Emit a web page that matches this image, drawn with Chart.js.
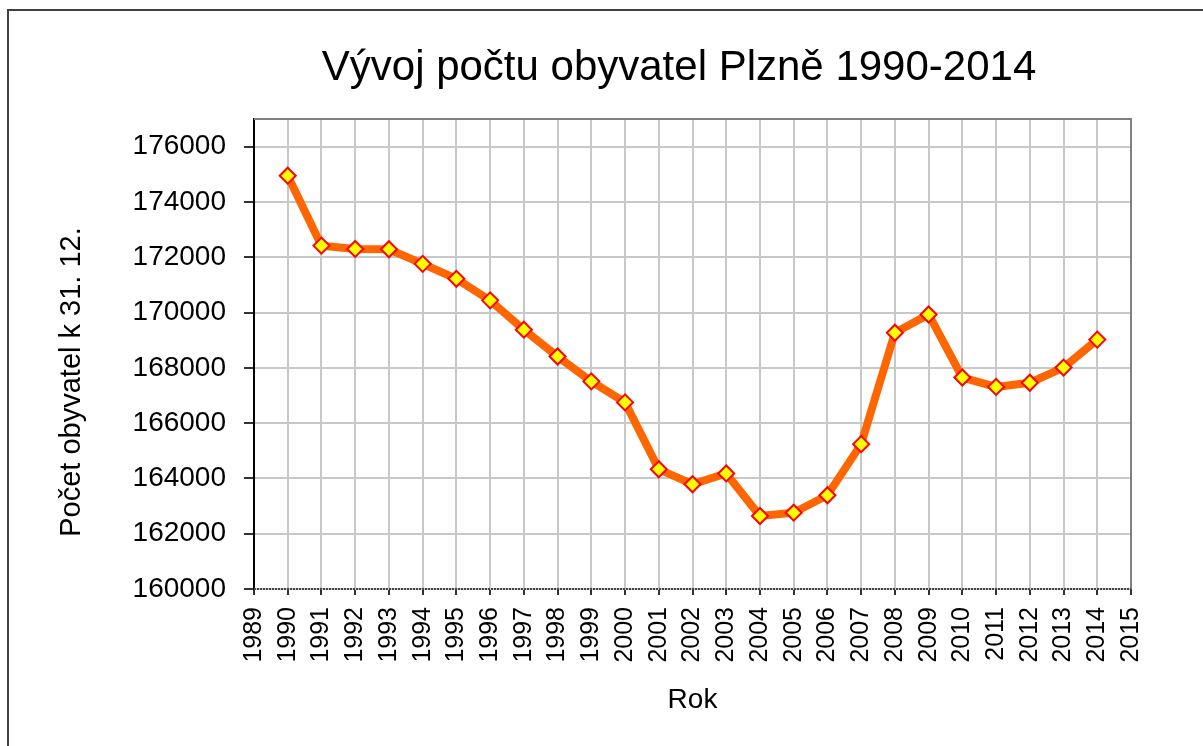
<!DOCTYPE html>
<html>
<head>
  <title>Vývoj počtu obyvatel Plzně 1990-2014</title>
  <style>
    body { margin: 0; background: #fff; }
    canvas { display: block; }
  </style>
</head>
<body>
  <canvas id="popChart" width="1203" height="746"></canvas>

  <script src="https://cdn.jsdelivr.net/npm/chart.js"></script>
  <script>
    // data
    const years = [1990, 1991, 1992, 1993, 1994, 1995, 1996, 1997, 1998, 1999, 2000, 2001,
                   2002, 2003, 2004, 2005, 2006, 2007, 2008, 2009, 2010, 2011, 2012, 2013, 2014];
    const population = [174950, 172420, 172300, 172290, 171760, 171220, 170440, 169380, 168410,
                        167510, 166750, 164330, 163790, 164180, 162640, 162760, 163390, 165240,
                        169270, 169930, 167650, 167310, 167460, 168010, 169020];
    const chartTitle = "Vývoj počtu obyvatel Plzně 1990-2014";
    const yTitle = "Počet obyvatel k 31. 12.";

    const FONT = "'Liberation Sans', Arial, sans-serif";

    // outer frame, plot-area edges and the titles (placed like the original, not centred on the plot)
    const framePlugin = {
      id: "frame",
      afterDraw(chart) {
        const ctx = chart.ctx;
        const a = chart.chartArea;
        ctx.save();
        ctx.strokeStyle = "#404040";
        ctx.lineWidth = 2;
        ctx.strokeRect(8, 10, 1220, 760);

        ctx.strokeStyle = "#808080";
        ctx.beginPath();
        ctx.moveTo(a.left, a.top);
        ctx.lineTo(a.right, a.top);
        ctx.lineTo(a.right, a.bottom);
        ctx.stroke();

        // dotted bottom axis line
        ctx.strokeStyle = "#444";
        ctx.setLineDash([2, 1]);
        ctx.beginPath();
        ctx.moveTo(a.left, a.bottom);
        ctx.lineTo(a.right, a.bottom);
        ctx.stroke();
        ctx.setLineDash([]);

        ctx.fillStyle = "#000";
        ctx.textAlign = "center";
        ctx.textBaseline = "middle";
        ctx.font = "42px " + FONT;
        ctx.fillText(chartTitle, 679, 68);

        ctx.translate(72, 382);
        ctx.rotate(-Math.PI / 2);
        ctx.font = "29px " + FONT;
        ctx.fillText(yTitle, 0, 0);
        ctx.restore();
      }
    };

    new Chart(document.getElementById("popChart"), {
      type: "line",
      data: {
        datasets: [{
          data: years.map((y, i) => ({ x: y, y: population[i] })),
          borderColor: "#ff6600",
          borderWidth: 8,
          pointStyle: "rectRot",
          pointRadius: 8,
          pointBackgroundColor: "#ffff00",
          pointBorderColor: "#ff0000",
          pointBorderWidth: 2,
          tension: 0
        }]
      },
      options: {
        responsive: false,
        animation: false,
        layout: { padding: { left: 0, right: 72, top: 119, bottom: 0 } },
        plugins: {
          legend: { display: false },
          tooltip: { enabled: false },
          title: { display: false }
        },
        scales: {
          x: {
            type: "linear",
            min: 1989,
            max: 2015,
            afterFit(scale) { scale.height = 157; },
            ticks: {
              stepSize: 1,
              autoSkip: false,
              minRotation: 90,
              maxRotation: 90,
              padding: 12,
              color: "#000",
              font: { family: FONT, size: 25 },
              callback: v => String(v)
            },
            grid: { color: "#c8c8c8", lineWidth: 2, tickLength: 6, tickColor: "#333" },
            border: { display: false },
            title: {
              display: true,
              text: "Rok",
              color: "#000",
              font: { family: FONT, size: 28 },
              padding: { top: 0, bottom: 29 }
            }
          },
          y: {
            min: 160000,
            max: 177000,
            afterFit(scale) { scale.width = 254; },
            ticks: {
              stepSize: 1000,
              padding: 18,
              color: "#000",
              font: { family: FONT, size: 28 },
              callback: v => (v % 2000 === 0 ? String(v) : "")
            },
            grid: {
              color: "#c8c8c8",
              lineWidth: 2,
              tickLength: 10,
              tickColor: c => (c.tick && c.tick.value % 2000 === 0 ? "#333" : "rgba(0,0,0,0)")
            },
            border: { color: "#000", width: 2 },
            title: { display: false }
          }
        }
      },
      plugins: [framePlugin]
    });
  </script>
</body>
</html>
